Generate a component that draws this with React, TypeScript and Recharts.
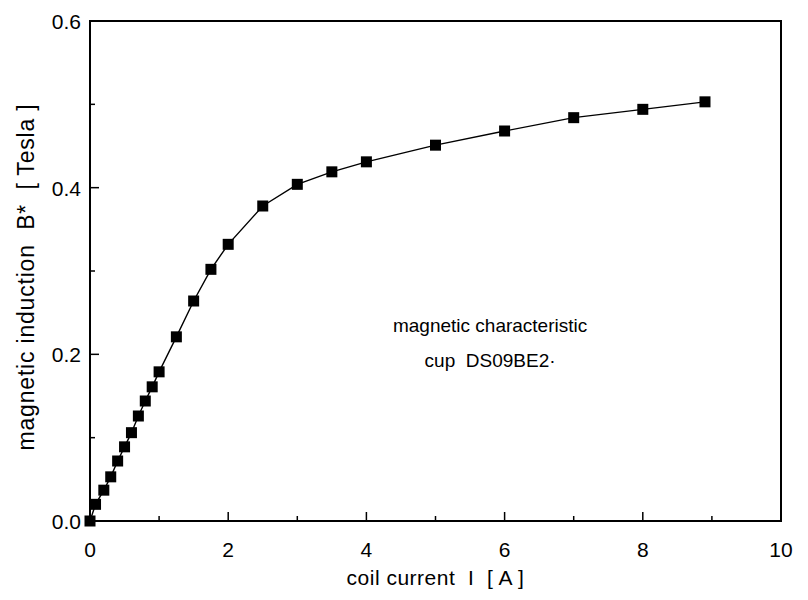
import React from 'react';
import {
  LineChart,
  Line,
  XAxis,
  YAxis,
  Label,
  ReferenceArea,
  ReferenceDot,
} from 'recharts';

// coil current I [A]
const current = [
  0, 0.08, 0.2, 0.3, 0.4, 0.5, 0.6, 0.7, 0.8, 0.9, 1.0, 1.25, 1.5, 1.75, 2.0, 2.5, 3.0, 3.5, 4.0, 5.0,
  6.0, 7.0, 8.0, 8.9,
];
// magnetic induction B* [Tesla]
const induction = [
  0, 0.02, 0.037, 0.053, 0.072, 0.089, 0.106, 0.126, 0.144, 0.161, 0.179, 0.221, 0.264, 0.302, 0.332,
  0.378, 0.404, 0.419, 0.431, 0.451, 0.468, 0.484, 0.494, 0.503,
];

const xTicks = [0, 1, 2, 3, 4, 5, 6, 7, 8, 9, 10];
const yTicks = [0, 0.1, 0.2, 0.3, 0.4, 0.5, 0.6];
const yTickLabels = ['0.0', '', '0.2', '', '0.4', '', '0.6'];

const annotation = ['magnetic characteristic', 'cup\u00a0\u00a0DS09BE2·'];
const xTitle = 'coil current\u00a0\u00a0I\u00a0\u00a0[ A ]';
const yTitle = 'magnetic induction\u00a0\u00a0B*\u00a0\u00a0[ Tesla ]';

const FONT = '"Liberation Sans", Arial, sans-serif';

const data = current.map((I, i) => ({ I, B: induction[i] }));

const XTick = (props: any) => {
  const { x, y, payload, index } = props;
  const major = index % 2 === 0;
  return (
    <g>
      <line x1={x} x2={x} y1={y} y2={y - (major ? 9 : 5)} stroke="#000" strokeWidth={1.5} />
      {major && (
        <text x={x} y={y + 36} textAnchor="middle" fontFamily={FONT} fontSize={21} fill="#000">
          {payload.value}
        </text>
      )}
    </g>
  );
};

const YTick = (props: any) => {
  const { x, y, index } = props;
  const major = index % 2 === 0;
  return (
    <g>
      <line x1={x} x2={x + (major ? 9 : 5)} y1={y} y2={y} stroke="#000" strokeWidth={1.5} />
      {major && (
        <text x={x - 9} y={y + 8} textAnchor="end" fontFamily={FONT} fontSize={21} fill="#000">
          {yTickLabels[index]}
        </text>
      )}
    </g>
  );
};

const SquareDot = (props: any) => {
  const { cx, cy } = props;
  if (cx == null || cy == null) return null;
  return <rect x={cx - 5.5} y={cy - 5.5} width={11} height={11} fill="#000" />;
};

const labelStyle = { fontFamily: FONT, fontSize: 19, fill: '#000' };

export default function App() {
  return (
    <div style={{ position: 'absolute', left: 0, top: 0, background: '#fff' }}>
      <LineChart
        width={808}
        height={600}
        data={data}
        margin={{ top: 21, right: 27, bottom: 49, left: 30 }}
      >
        <XAxis
          type="number"
          dataKey="I"
          domain={[0, 10]}
          ticks={xTicks}
          interval={0}
          height={30}
          tickSize={0}
          tickMargin={0}
          tickLine={false}
          tick={(p: any) => <XTick {...p} />}
          axisLine={{ stroke: '#000', strokeWidth: 2 }}
        >
          <Label
            value={xTitle}
            position="bottom"
            offset={19}
            style={{ ...labelStyle, fontSize: 21, letterSpacing: 0.5 }}
          />
        </XAxis>
        <YAxis
          type="number"
          domain={[0, 0.6]}
          ticks={yTicks}
          interval={0}
          width={60}
          tickSize={0}
          tickMargin={0}
          tickLine={false}
          tick={(p: any) => <YTick {...p} />}
          axisLine={{ stroke: '#000', strokeWidth: 2 }}
        >
          <Label
            value={yTitle}
            angle={-90}
            position="left"
            offset={4}
            dy={6}
            style={{ ...labelStyle, fontSize: 23, letterSpacing: 0.8, textAnchor: 'middle' }}
          />
        </YAxis>
        <ReferenceArea x1={0} x2={10} y1={0} y2={0.6} fill="none" stroke="#000" strokeWidth={2} />
        <ReferenceDot x={5.79} y={0.235} r={0} fill="none" stroke="none">
          <Label value={annotation[0]} position="center" style={labelStyle} />
        </ReferenceDot>
        <ReferenceDot x={5.79} y={0.193} r={0} fill="none" stroke="none">
          <Label value={annotation[1]} position="center" style={labelStyle} />
        </ReferenceDot>
        <Line
          type="linear"
          dataKey="B"
          stroke="#000"
          strokeWidth={1.4}
          dot={<SquareDot />}
          activeDot={false}
          isAnimationActive={false}
        />
      </LineChart>
    </div>
  );
}
